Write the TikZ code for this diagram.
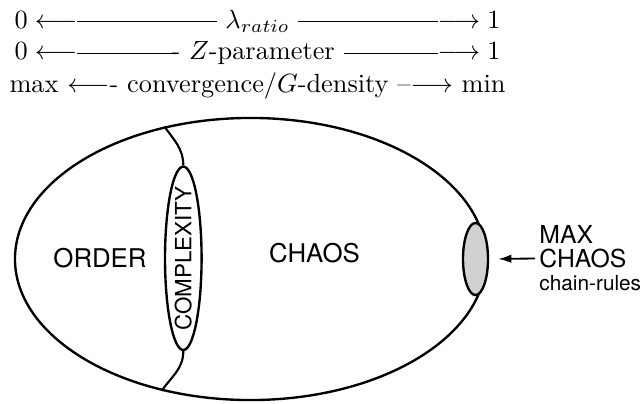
\documentclass[tikz,border=0pt]{standalone}
\usepackage{fontspec}
\setsansfont{TeX Gyre Heros}
\usetikzlibrary{arrows.meta,shapes.geometric}
\newcommand\axisfill{\leaders\vrule height 2.7pt depth -2.3pt\hfill}

\begin{document}
\begin{tikzpicture}[x=0.38pt, y=-0.38pt,
    region/.style={draw, ellipse, line width=0.9pt, inner sep=0pt},
    scale line/.style={anchor=base west, inner sep=0pt},
    word/.style={font=\sffamily\fontsize{9.8}{10}\selectfont}]
  \useasboundingbox (0,0) rectangle (643,403);

  % Scales on top
  \node[scale line] (ratio) at (14,28.5)
    {\makebox[184.7pt]{$0 \longleftarrow$\axisfill\ $\lambda_{ratio}$\ \axisfill$\longrightarrow 1$}};
  \node[scale line] (zpar) at (14,60)
    {\makebox[184.7pt]{$0 \longleftarrow$\axisfill- $Z$-parameter \axisfill$\longrightarrow 1$}};
  \node[scale line] (dens) at (14,92)
    {\makebox[184.7pt]{max $\longleftarrow$- convergence/$G$-density \axisfill--$\longrightarrow$ min}};

  % Regions
  \node[region, minimum width=179pt, minimum height=107.2pt] (space) at (250.5,259) {};
  \node[region, minimum width=13.9pt, minimum height=69.7pt] (cplx) at (183.3,258.3) {};
  \node[region, fill=black!18, minimum width=9.5pt, minimum height=27.4pt] (maxchaos) at (475.5,259) {};
  \draw[line width=0.8pt] (space.123) to[out=-55, in=90] (cplx.north);
  \draw[line width=0.8pt] (cplx.south) to[out=-90, in=55] (space.236);

  % Labels
  \node[word] (order) at (100,258.5) {ORDER};
  \node[word] (chaos) at (314.5,253.5) {CHAOS};
  \node[word, rotate=90, font=\sffamily\fontsize{8.5}{9}\selectfont] (cplxlabel) at (cplx) {COMPLEXITY};
  \node[word, anchor=west, align=left, inner sep=1.5pt, font=\sffamily\fontsize{9.4}{8.9}\selectfont] (maxlabel) at (535,258.5)
    {MAX\\CHAOS\\{\fontsize{7.9}{8.9}\selectfont chain-rules}};
  \draw[-{Latex[length=5pt,width=3.2pt]}, line width=0.7pt, shorten >=3.4pt] (maxlabel.west) -- (maxchaos.east);
\end{tikzpicture}
\end{document}
